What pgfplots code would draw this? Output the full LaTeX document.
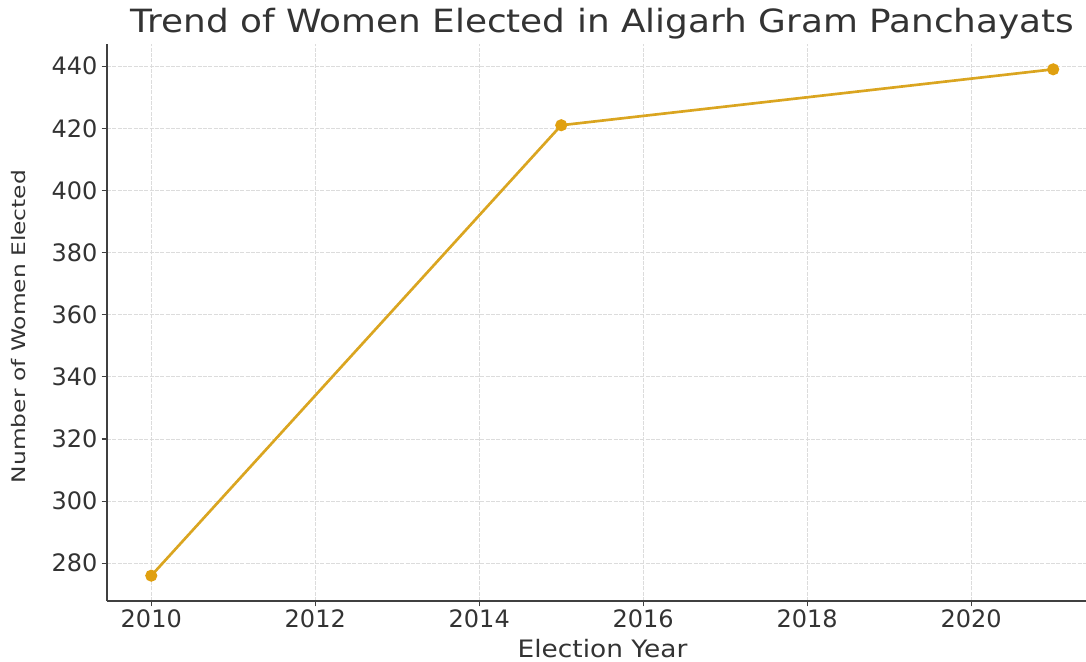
\documentclass[border=0pt]{standalone}
\usepackage{fontspec}
\setmainfont{DejaVu Sans}
\usepackage{pgfplots}
\pgfplotsset{compat=1.18}
\usetikzlibrary{calc}

\definecolor{linegold}{HTML}{DAA520}
\definecolor{markgold}{HTML}{E0A010}
\definecolor{spine}{HTML}{404040}
\definecolor{txt}{HTML}{333333}
\definecolor{gridc}{HTML}{DCDCDC}

\pgfplotstableread{
year women
2010 276
2015 421
2021 439
}\womendata

\begin{document}
\begin{tikzpicture}
% page = 1086 x 661 px at 0.75pt per px
\useasboundingbox (-80.25pt,-45pt) rectangle (734.25pt,450.75pt);
\begin{axis}[
    scale only axis,
    width=734.25pt,
    height=417.75pt,
    xmin=2009.46, xmax=2021.40,
    ymin=267.85, ymax=447.15,
    xtick={2010,2012,...,2020},
    ytick={280,300,...,440},
    axis x line*=bottom,
    axis y line*=left,
    axis line style={spine, line width=1.1pt, -},
    tick align=outside,
    major tick length=4pt,
    tick style={spine, line width=0.8pt},
    grid=major,
    major grid style={gridc, line width=0.6pt, dash pattern=on 3pt off 1pt},
    x tick label style={/pgf/number format/1000 sep={}},
    /pgf/number format/assume math mode=true,
    tick label style={font=\fontsize{18pt}{20pt}\selectfont, text=txt},
    yticklabel style={inner sep=0pt, xshift=-3pt},
    xticklabel style={inner sep=0pt, yshift=-2pt},
    clip=false,
]
\addplot[linegold, line width=2pt, mark=*, mark size=3.5pt,
    mark options={fill=markgold, draw=markgold}] table[x=year, y=women] {\womendata};

\node[anchor=base, font=\fontsize{24pt}{26pt}\selectfont, text=txt]
    at ($(rel axis cs:0.5,1)+(4.5pt,8.25pt)$) {\scalebox{1.12}[1]{Trend of Women Elected in Aligarh Gram Panchayats}};
\node[anchor=base, font=\fontsize{18pt}{20pt}\selectfont, text=txt]
    at ($(rel axis cs:0.5,0)+(4.5pt,-42pt)$) {\scalebox{1.1}[1]{Election Year}};
\node[anchor=base, rotate=90, font=\fontsize{14pt}{16pt}\selectfont, text=txt]
    at ($(rel axis cs:0,0.5)+(-61pt,-3pt)$) {\scalebox{1.25}[1]{Number of Women Elected}};
\end{axis}
\end{tikzpicture}
\end{document}
